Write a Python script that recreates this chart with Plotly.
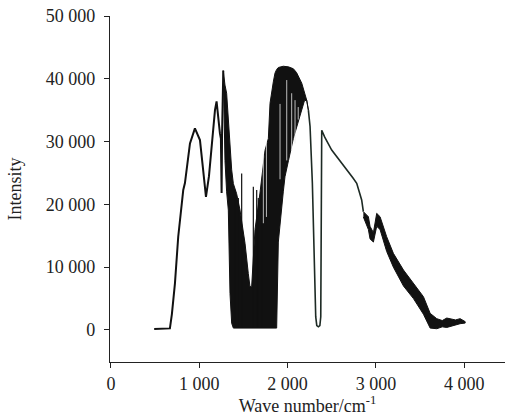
import plotly.graph_objects as go

# ---- data (wavenumber in cm^-1, intensity) ----
# smooth outline segments
left_x = [490, 560, 620, 668, 690, 713, 725, 762, 819, 838, 895, 951, 1008, 1040, 1076,
          1110, 1140, 1178, 1196, 1215, 1234, 1245, 1253, 1258, 1265, 1272]
left_y = [150, 200, 250, 250, 2500, 5900, 7430, 14850, 22290, 23400, 29720, 32100, 30250,
          26000, 21200, 24500, 29700, 35000, 36400, 33400, 31300, 30500, 21800, 31000, 39000, 41300]

mid_x = [2235, 2254, 2280, 2299, 2318, 2330, 2348, 2365, 2375, 2386, 2420, 2499, 2580,
         2669, 2740, 2782, 2838, 2857]
mid_y = [35000, 32400, 23400, 12700, 2120, 700, 500, 700, 2100, 31800, 30700, 28650, 27200,
         25470, 24200, 23350, 20700, 18840]

# dense water-vapour band (upper / lower envelopes)
band1_x = [1272, 1280, 1291, 1310, 1329, 1348, 1367, 1386, 1423, 1461, 1499, 1518, 1555,
           1574, 1593, 1612, 1631, 1687, 1744, 1782, 1801, 1838, 1857, 1876, 1895, 1951,
           1970, 2010, 2065, 2101, 2160, 2190, 2216, 2235]
band1_hi = [41300, 40000, 39000, 37700, 33000, 29700, 25500, 23300, 21700, 19100, 15500,
            13800, 9000, 6900, 6900, 12000, 16000, 21800, 28600, 30500, 36100, 39500, 40900,
            41500, 41800, 42000, 42000, 41900, 41600, 41000, 39300, 38000, 36600, 35000]
band1_lo = [41300, 33000, 27000, 22000, 19100, 5800, 1060, 300, 300, 300, 300, 300, 300,
            300, 300, 300, 300, 300, 300, 300, 300, 300, 300, 300, 14000, 22000, 24400,
            27000, 30500, 32400, 35000, 36500, 36600, 35000]

# noisy band above 2 850 cm^-1
band2_x = [2857, 2914, 2933, 2971, 3008, 3046, 3121, 3197, 3311, 3424, 3537, 3613, 3688,
           3750, 3801, 3900, 3952, 4009]
band2_hi = [18840, 18040, 16500, 15500, 18570, 18040, 14850, 12200, 9550, 7430, 5300, 2650,
            1800, 1500, 1900, 1600, 1800, 1330]
band2_lo = [18000, 16000, 14500, 14000, 16500, 16000, 12500, 10000, 7000, 5000, 2500, 300,
            200, 500, 400, 800, 1000, 1100]

# isolated absorption spikes standing up inside the band
spike_x = [1404, 1442, 1480, 1612, 1650, 1668, 1706]
spike_top = [22300, 21000, 24900, 22800, 22300, 21000, 22800]

# light streaks (gaps between lines) inside the dense band
gap_x = [1725, 1760, 1914, 1990, 2046, 2084, 2120]
gap_top = [28000, 30000, 36000, 39800, 37700, 36600, 35500]
gap_bot = [17000, 18000, 24000, 27000, 28650, 29700, 33500]

# axis ticks
x_ticks = [0, 1000, 2000, 3000, 4000]
y_ticks = [0, 10000, 20000, 30000, 40000, 50000]

INK = "#111111"

fig = go.Figure()

# filled dense bands
fig.add_trace(go.Scatter(
    x=band1_x + band1_x[::-1], y=band1_hi + band1_lo[::-1],
    fill="toself", fillcolor=INK, mode="lines", line=dict(color=INK, width=1),
    hoverinfo="skip", showlegend=False))
fig.add_trace(go.Scatter(
    x=band2_x + band2_x[::-1], y=band2_hi + band2_lo[::-1],
    fill="toself", fillcolor=INK, mode="lines", line=dict(color=INK, width=1),
    hoverinfo="skip", showlegend=False))

# light streaks
gx, gy = [], []
for xv, tv, bv in zip(gap_x, gap_top, gap_bot):
    gx += [xv, xv, None]
    gy += [bv, tv, None]
fig.add_trace(go.Scatter(x=gx, y=gy, mode="lines", line=dict(color="#e8e8e8", width=0.8),
                         hoverinfo="skip", showlegend=False))

# spikes
sx, sy = [], []
for xv, tv in zip(spike_x, spike_top):
    sx += [xv, xv, None]
    sy += [300, tv, None]
fig.add_trace(go.Scatter(x=sx, y=sy, mode="lines", line=dict(color=INK, width=1.2),
                         hoverinfo="skip", showlegend=False))

# outline
fig.add_trace(go.Scatter(x=left_x, y=left_y, mode="lines",
                         line=dict(color=INK, width=2), showlegend=False))
fig.add_trace(go.Scatter(x=mid_x, y=mid_y, mode="lines",
                         line=dict(color="#1d2a24", width=1.6), showlegend=False))

FONT = "Liberation Serif, Times New Roman, serif"

fig.update_layout(
    width=508, height=416,
    margin=dict(l=110, r=3, t=16, b=54),
    plot_bgcolor="white", paper_bgcolor="white",
    separators=". ",
    font=dict(family=FONT, size=18, color="#222222"),
    showlegend=False,
)
fig.update_xaxes(
    range=[-10, 4460], tickvals=x_ticks, tickformat=",d", automargin=False,
    showline=True, linecolor="#222222", linewidth=1.2, showgrid=False, zeroline=False,
    ticks="outside", ticklen=5, tickcolor="#222222", tickwidth=1.2, ticklabelstandoff=0,
    ticklabeloverflow="allow",
    title=dict(text="Wave number/cm<sup>-1</sup>", standoff=6,
               font=dict(family=FONT, size=18)),
)
fig.update_yaxes(
    range=[-5100, 50000], tickvals=y_ticks, tickformat=",d", automargin=False,
    showline=True, linecolor="#222222", linewidth=1.2, showgrid=False, zeroline=False,
    ticks="outside", ticklen=5, tickcolor="#222222", tickwidth=1.2, ticklabelstandoff=5,
    ticklabeloverflow="allow",
    title=dict(text="Intensity", standoff=19, font=dict(family=FONT, size=18)),
)

fig.write_html("out.html", config={"displayModeBar": False},
               post_script="document.body.style.margin='0';")
